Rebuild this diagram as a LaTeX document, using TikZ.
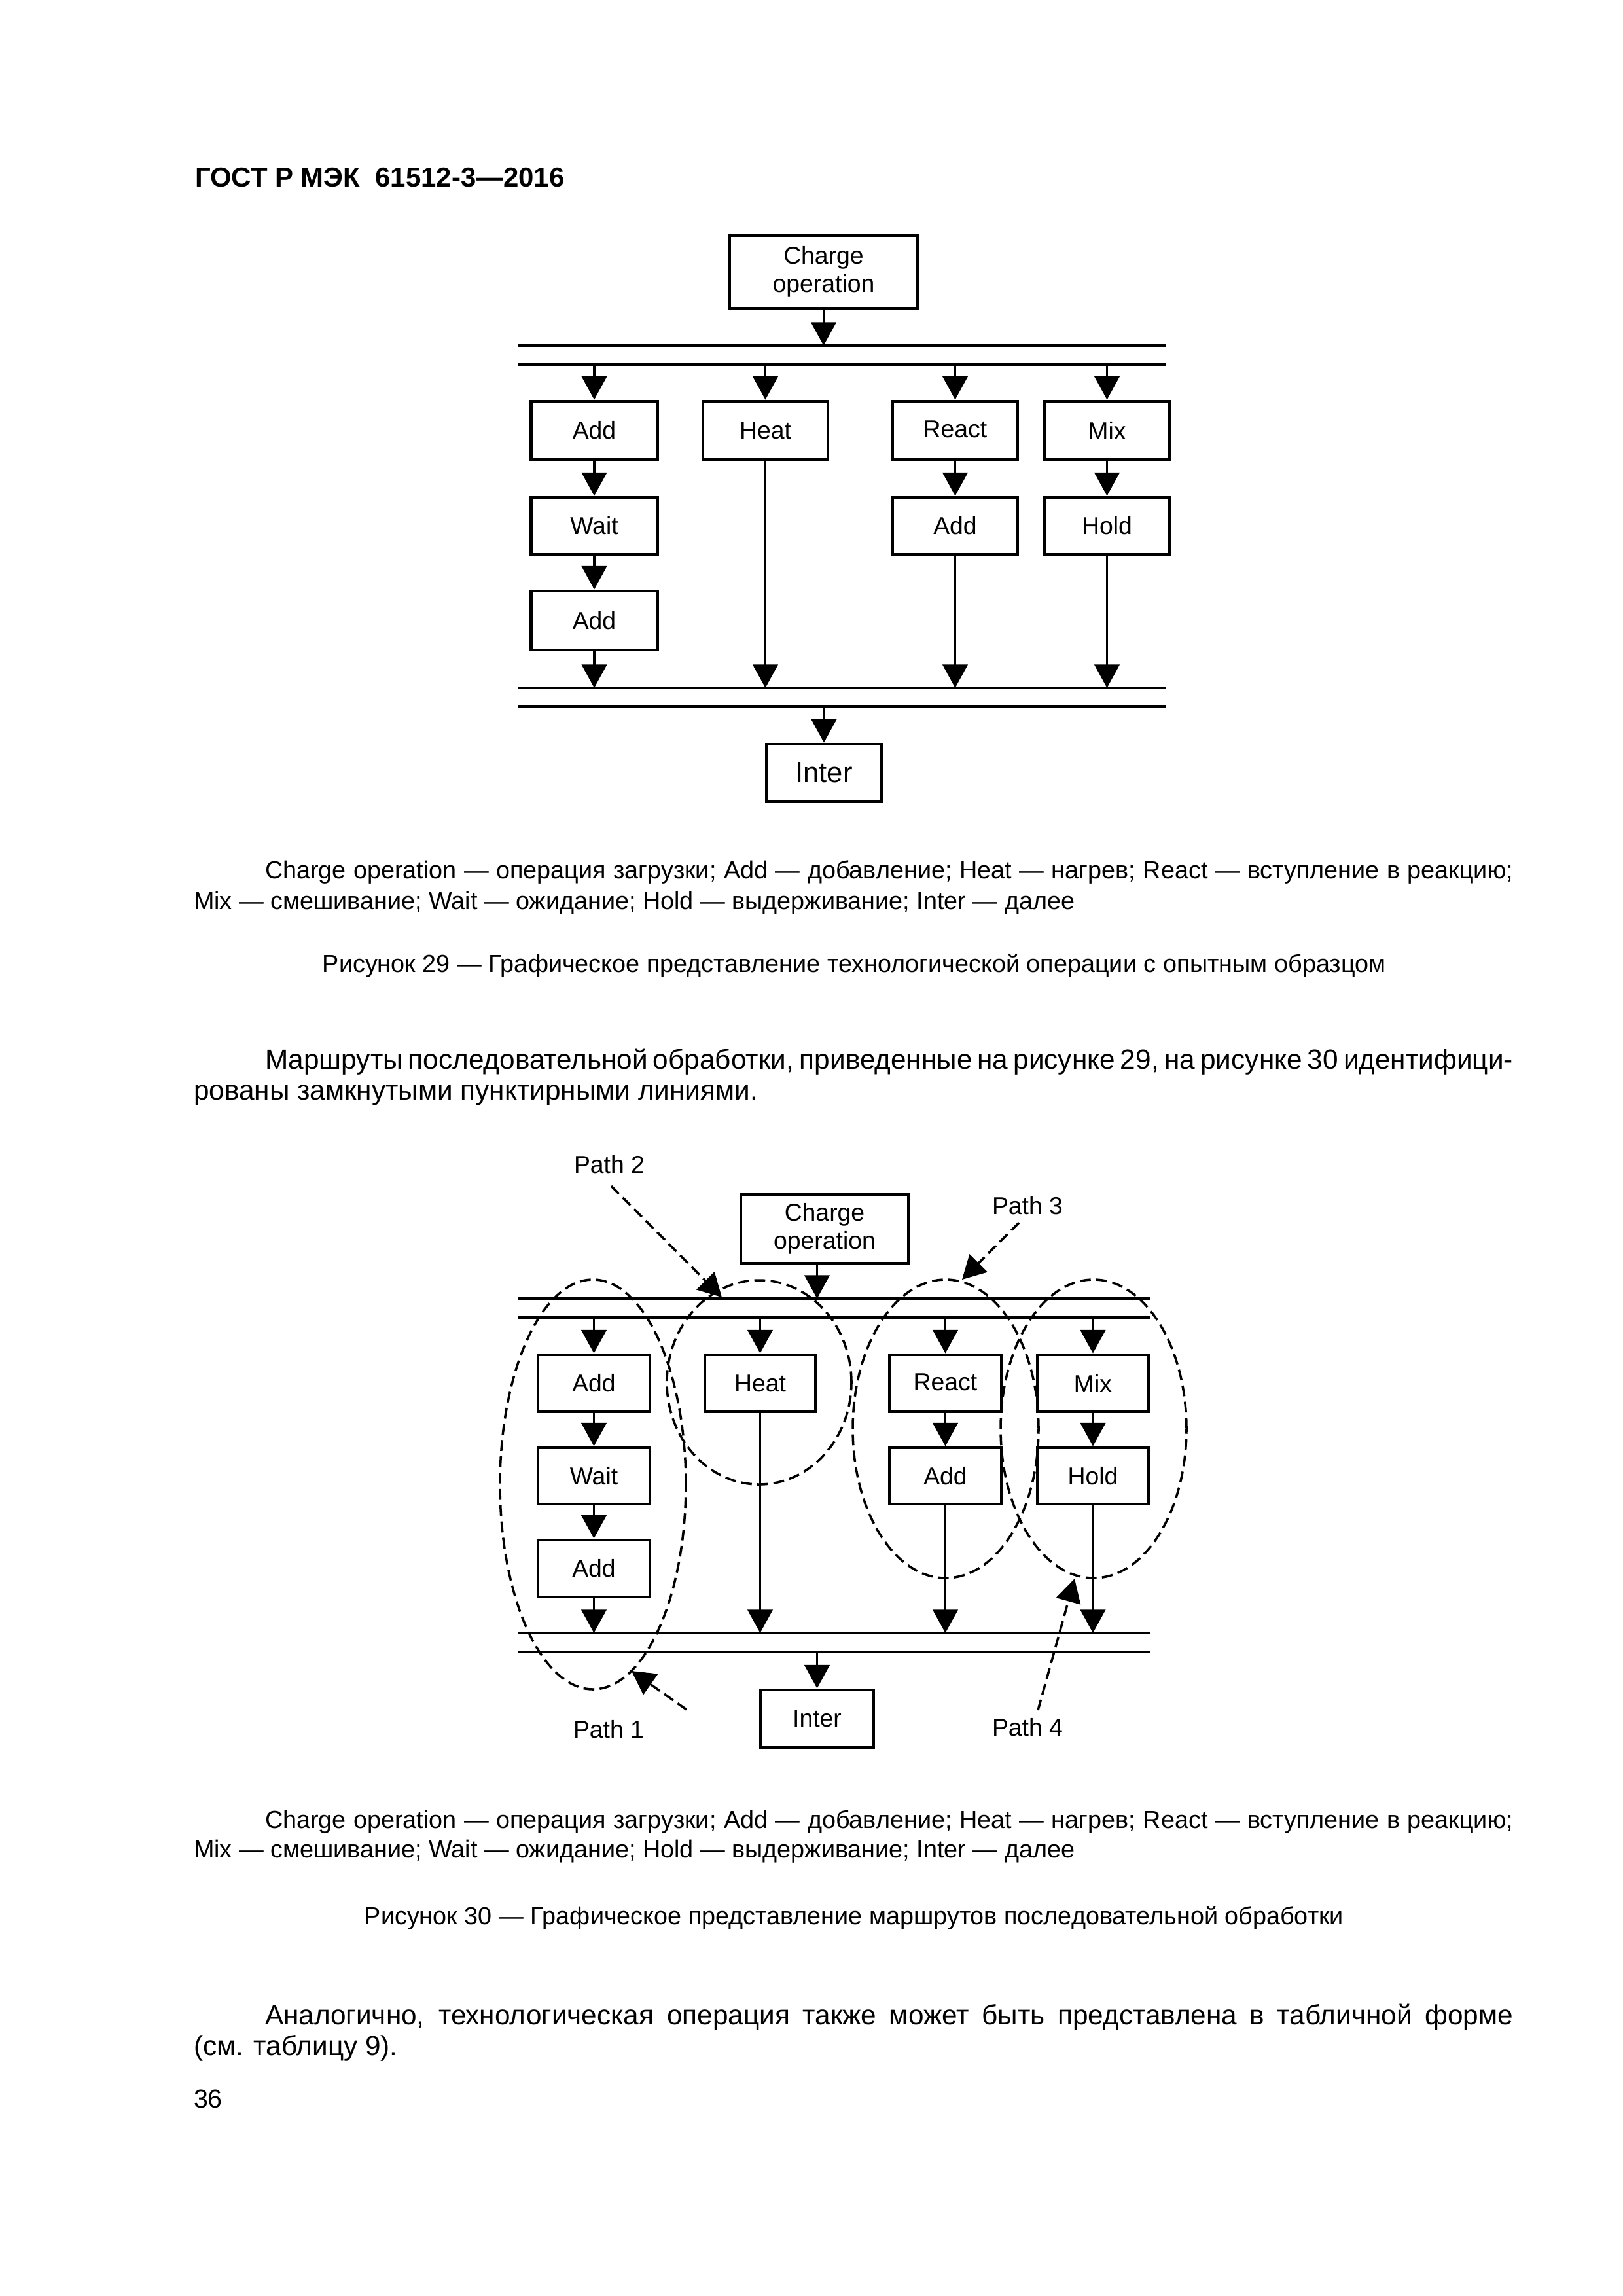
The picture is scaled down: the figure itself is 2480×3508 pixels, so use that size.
\documentclass[tikz,border=0pt]{standalone}
\usepackage{fontspec}
\setmainfont{Liberation Sans}
\usetikzlibrary{arrows.meta,shapes.geometric}
\def\pxu{0.0846667mm}
\newcommand{\fsbox}{\fontsize{9}{10.5}\selectfont}
\newcommand{\fsnote}{\fontsize{9.1}{11}\selectfont}
\newcommand{\fsbody}{\fontsize{10.2}{12}\selectfont}
\begin{document}
\begin{tikzpicture}[x=0.0846667mm, y=-0.0846667mm,
  txt/.style={anchor=base west, inner sep=0pt, outer sep=0pt},
  txtc/.style={anchor=base, inner sep=0pt, outer sep=0pt},
  opbox/.style={draw, line width=1.15pt, inner sep=0pt, align=center, font=\fsbox},
  arr/.style={line width=0.9pt, -{Triangle[length=8.6pt,width=9.2pt]}},
  busline/.style={line width=1pt},
  pathln/.style={line width=0.85pt, dash pattern=on 4pt off 2pt},
  patharr/.style={pathln, -{Triangle[length=8.6pt,width=9.2pt]}},
  ell/.style={ellipse, draw, pathln, inner sep=0pt}]
\useasboundingbox[fill=white] (0,0) rectangle (2480,3508);

% ---------- header ----------
\node[txt] (hdr) at (298,285) {\fontsize{10.1}{12}\selectfont\bfseries ГОСТ Р МЭК\ \ 61512-3—2016};

% ---------- Figure 29 ----------
\node[opbox, minimum width=287*\pxu, minimum height=111*\pxu] (c29) at (1258.5,415.5) {Charge\\operation};
\node[opbox, minimum width=193*\pxu, minimum height=89*\pxu] (a29) at (908,657.5) {Add};
\node[opbox, minimum width=191*\pxu, minimum height=89*\pxu] (h29) at (1169.5,657.5) {Heat};
\node[opbox, minimum width=191*\pxu, minimum height=89*\pxu] (r29) at (1459.5,657.5) {\raisebox{1pt}{React}};
\node[opbox, minimum width=191*\pxu, minimum height=89*\pxu] (m29) at (1691.5,657.5) {Mix};
\node[opbox, minimum width=193*\pxu, minimum height=87*\pxu] (w29) at (908,803.5) {Wait};
\node[opbox, minimum width=191*\pxu, minimum height=87*\pxu] (ra29) at (1459.5,803.5) {Add};
\node[opbox, minimum width=191*\pxu, minimum height=87*\pxu] (ho29) at (1691.5,803.5) {Hold};
\node[opbox, minimum width=193*\pxu, minimum height=90*\pxu] (aa29) at (908,948) {Add};
\node[opbox, minimum width=176*\pxu, minimum height=88*\pxu, font=\fontsize{10.5}{12}\selectfont] (i29) at (1259,1181) {Inter};

\coordinate (b1L) at (791,528);  \coordinate (b1R) at (1782,528);
\coordinate (b2L) at (791,557);  \coordinate (b2R) at (1782,557);
\coordinate (b3L) at (791,1051); \coordinate (b3R) at (1782,1051);
\coordinate (b4L) at (791,1079); \coordinate (b4R) at (1782,1079);
\draw[busline] (b1L) -- (b1R);
\draw[busline] (b2L) -- (b2R);
\draw[busline] (b3L) -- (b3R);
\draw[busline] (b4L) -- (b4R);

\draw[arr] (c29.south) -- (c29.south |- b1L);
\foreach \n in {a29,h29,r29,m29} \draw[arr] (\n.north |- b2L) -- (\n.north);
\draw[arr] (a29.south) -- (w29.north);
\draw[arr] (w29.south) -- (aa29.north);
\draw[arr] (r29.south) -- (ra29.north);
\draw[arr] (m29.south) -- (ho29.north);
\draw[arr] (aa29.south) -- (aa29.south |- b3L);
\draw[arr] (h29.south) -- (h29.south |- b3L);
\draw[arr] (ra29.south) -- (ra29.south |- b3L);
\draw[arr] (ho29.south) -- (ho29.south |- b3L);
\draw[arr] (i29.north |- b4L) -- (i29.north);

% ---------- texts after figure 29 ----------
\node[txt] (n29a) at (405,1342) {\fsnote\makebox[161.46mm][s]{Charge operation — операция загрузки; Add — добавление; Heat — нагрев; React — вступление в реакцию;}};
\node[txt] (n29b) at (296,1389) {\fsnote Mix — смешивание; Wait — ожидание; Hold — выдерживание; Inter — далее};
\node[txtc] (cap29) at (1305,1485) {\fsnote Рисунок 29 — Графическое представление технологической операции с опытным образцом};

\node[txt] (p1a) at (405,1633) {\fsbody\makebox[161.46mm][s]{Маршруты последовательной обработки, приведенные на рисунке 29, на рисунке 30 идентифици-}};
\node[txt] (p1b) at (296,1680) {\fsbody рованы замкнутыми пунктирными линиями.};

% ---------- Figure 30 ----------
\node[opbox, minimum width=256*\pxu, minimum height=105*\pxu] (c30) at (1260,1877.5) {Charge\\operation};
\node[opbox, minimum width=171*\pxu, minimum height=87*\pxu] (a30) at (907.5,2113.5) {Add};
\node[opbox, minimum width=169*\pxu, minimum height=87*\pxu] (h30) at (1161.5,2113.5) {Heat};
\node[opbox, minimum width=171*\pxu, minimum height=87*\pxu] (r30) at (1444.5,2113.5) {\raisebox{1pt}{React}};
\node[opbox, minimum width=170*\pxu, minimum height=87*\pxu] (m30) at (1670,2113.5) {Mix};
\node[opbox, minimum width=171*\pxu, minimum height=86*\pxu] (w30) at (907.5,2255) {Wait};
\node[opbox, minimum width=171*\pxu, minimum height=86*\pxu] (ra30) at (1444.5,2255) {Add};
\node[opbox, minimum width=170*\pxu, minimum height=86*\pxu] (ho30) at (1670,2255) {Hold};
\node[opbox, minimum width=171*\pxu, minimum height=87*\pxu] (aa30) at (907.5,2396.5) {Add};
\node[opbox, minimum width=173*\pxu, minimum height=88*\pxu] (i30) at (1248.5,2626) {Inter};

\coordinate (d1L) at (791,1984); \coordinate (d1R) at (1757,1984);
\coordinate (d2L) at (791,2013); \coordinate (d2R) at (1757,2013);
\coordinate (d3L) at (791,2495); \coordinate (d3R) at (1757,2495);
\coordinate (d4L) at (791,2524); \coordinate (d4R) at (1757,2524);
\draw[busline] (d1L) -- (d1R);
\draw[busline] (d2L) -- (d2R);
\draw[busline] (d3L) -- (d3R);
\draw[busline] (d4L) -- (d4R);

\draw[arr] (c30.south -| i30.north) -- (i30.north |- d1L);
\foreach \n in {a30,h30,r30,m30} \draw[arr] (\n.north |- d2L) -- (\n.north);
\draw[arr] (a30.south) -- (w30.north);
\draw[arr] (w30.south) -- (aa30.north);
\draw[arr] (r30.south) -- (ra30.north);
\draw[arr] (m30.south) -- (ho30.north);
\draw[arr] (aa30.south) -- (aa30.south |- d3L);
\draw[arr] (h30.south) -- (h30.south |- d3L);
\draw[arr] (ra30.south) -- (ra30.south |- d3L);
\draw[arr] (ho30.south) -- (ho30.south |- d3L);
\draw[arr] (i30.north |- d4L) -- (i30.north);

% dashed path ellipses
\node[ell, minimum width=284*\pxu, minimum height=626*\pxu] (e1) at (906,2268) {};
\node[ell, minimum width=282*\pxu, minimum height=312*\pxu] (e2) at (1160,2112) {};
\node[ell, minimum width=284*\pxu, minimum height=456*\pxu] (e3) at (1445,2183) {};
\node[ell, minimum width=284*\pxu, minimum height=456*\pxu] (e4) at (1671,2183) {};

% path labels and pointer arrows
\node[txt, font=\fsbox] (l1) at (876,2655) {Path 1};
\node[txt, font=\fsbox] (l2) at (877,1792) {Path 2};
\node[txt, font=\fsbox] (l3) at (1516,1855) {Path 3};
\node[txt, font=\fsbox] (l4) at (1516,2652) {Path 4};
\coordinate (s1) at (1049,2612); \coordinate (t1) at (965,2553);
\coordinate (s2) at (934,1812);  \coordinate (t2) at (1103,1982);
\coordinate (s3) at (1557,1868); \coordinate (t3) at (1470,1955);
\coordinate (s4) at (1586,2613); \coordinate (t4) at (1642,2412);
\draw[patharr] (s1) -- (t1);
\draw[patharr] (s2) -- (t2);
\draw[patharr] (s3) -- (t3);
\draw[patharr] (s4) -- (t4);

% ---------- texts after figure 30 ----------
\node[txt] (n30a) at (405,2793) {\fsnote\makebox[161.46mm][s]{Charge operation — операция загрузки; Add — добавление; Heat — нагрев; React — вступление в реакцию;}};
\node[txt] (n30b) at (296,2838) {\fsnote Mix — смешивание; Wait — ожидание; Hold — выдерживание; Inter — далее};
\node[txtc] (cap30) at (1305,2940) {\fsnote Рисунок 30 — Графическое представление маршрутов последовательной обработки};

\node[txt] (p2a) at (405,3093) {\fsbody\makebox[161.46mm][s]{Аналогично, технологическая операция также может быть представлена в табличной форме}};
\node[txt] (p2b) at (296,3140) {\fsbody (см. таблицу 9).};
\node[txt] (pg) at (296,3220) {\fontsize{9.5}{11}\selectfont 36};
\end{tikzpicture}
\end{document}
